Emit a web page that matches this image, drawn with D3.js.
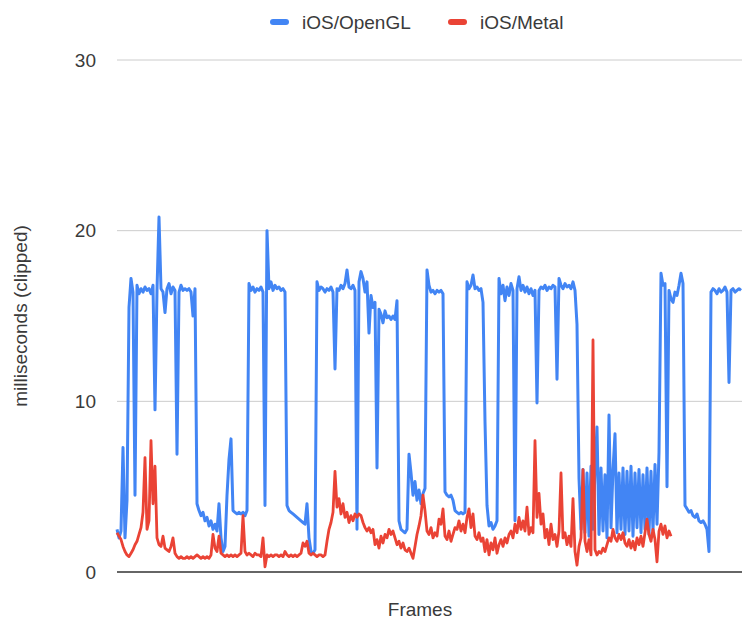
<!DOCTYPE html>
<html>
<head>
<meta charset="utf-8">
<script src="https://cdn.jsdelivr.net/npm/d3@7"></script>
<style>
  body { margin: 0; background: #fff; }
  svg { display: block; }
  .grid line { stroke: #cccccc; stroke-width: 1; }
  text { font-family: "Liberation Sans", Arial, sans-serif; fill: #3a3a3a; }
</style>
</head>
<body>
<div id="chart"></div>
<script>
// series names and colours
var seriesNames = ["iOS/OpenGL", "iOS/Metal"];
var seriesColors = ["#4285f4", "#ea4335"];
var yTicks = [0, 10, 20, 30];

// frame times in ms (one value every couple of frames)
var openglMs = [
  2.5, 2.0, 2.4, 7.3, 2.0, 4.2, 15.5, 17.2, 16.4, 4.5,
  16.8, 16.3, 16.6, 16.4, 16.7, 16.5, 16.6, 16.3, 16.8, 9.5,
  16.5, 20.8, 16.6, 16.4, 15.2, 16.6, 16.9, 16.3, 16.7, 16.5,
  6.9, 16.4, 16.8, 16.5, 16.6, 16.5, 16.6, 16.4, 15.0, 16.6,
  4.0, 3.6, 3.3, 3.5, 3.0, 3.2, 2.7, 3.0, 2.5, 2.8,
  2.4, 4.0, 2.0, 1.2, 1.5, 4.5, 6.6, 7.8, 3.6, 3.5,
  3.4, 3.5, 3.4, 3.5, 3.3, 3.6, 16.9, 16.5, 16.7, 16.4,
  16.6, 16.5, 16.7, 16.4, 3.9, 20.0, 16.6, 17.0, 16.5, 16.8,
  16.6, 16.7, 16.5, 16.6, 16.4, 3.9, 3.6, 3.5, 3.4, 3.3,
  3.2, 3.1, 3.0, 2.9, 2.8, 4.0, 2.0, 1.2, 1.1, 1.3,
  17.0, 16.5, 16.7, 16.6, 16.4, 16.6, 16.5, 16.7, 16.4, 11.9,
  16.6, 16.5, 16.8, 16.6, 16.9, 17.7, 16.7, 16.6, 16.8, 16.5,
  2.5, 17.0, 17.6, 17.2, 16.4, 17.0, 14.0, 16.2, 15.5, 15.8,
  6.1, 15.4, 15.1, 14.6, 15.3, 14.9, 15.0, 14.8, 15.0, 14.8,
  15.9, 3.0, 2.5, 2.4, 2.3, 2.5, 6.9, 5.8, 4.5, 5.3,
  4.2, 4.8, 4.0, 4.6, 4.9, 17.7, 16.8, 16.4, 16.5, 16.3,
  16.5, 16.4, 16.5, 16.3, 4.7, 4.5, 4.4, 4.5, 4.2, 3.6,
  3.5, 3.4, 3.5, 3.4, 3.5, 17.0, 16.6, 16.8, 17.4, 16.6,
  16.7, 16.5, 16.6, 15.8, 8.8, 3.9, 2.7, 2.9, 2.5, 2.7,
  3.0, 17.2, 16.3, 16.8, 15.9, 16.7, 16.2, 16.9, 16.5, 3.0,
  16.6, 17.3, 16.5, 16.8, 16.4, 16.7, 16.3, 16.6, 16.2, 16.5,
  9.9, 16.5, 16.7, 16.6, 16.8, 16.5, 16.7, 16.6, 16.8, 16.7,
  11.3, 17.2, 16.8, 16.6, 16.9, 16.7, 16.8, 16.6, 17.0, 16.5,
  14.5, 5.5, 2.5, 6.0, 2.3, 5.8, 2.1, 6.2, 2.5, 5.9,
  8.5, 2.2, 6.1, 2.4, 5.7, 2.0, 9.2, 2.6, 6.0, 8.1,
  2.3, 5.8, 2.5, 6.1, 2.2, 5.9, 2.4, 6.2, 2.1, 5.8,
  2.6, 6.0, 2.3, 5.7, 2.5, 6.1, 2.2, 5.9, 2.4, 6.3,
  2.8, 7.0, 17.5, 16.8, 16.9, 5.0, 16.5, 16.0, 15.8, 16.4,
  16.2, 16.8, 17.5, 16.9, 3.9, 3.7, 3.5, 3.6, 3.3, 3.2,
  3.4, 3.0, 2.9, 3.0, 2.8, 2.5, 1.2, 16.4, 16.6, 16.5,
  16.3, 16.6, 16.4, 16.5, 16.7, 16.4, 11.1, 16.5, 16.6, 16.4,
  16.5, 16.6, 16.5
];

var metalMs = [
  2.3, 2.1, 1.9, 1.5, 1.2, 1.0, 0.9, 1.1, 1.3, 1.6,
  1.8, 2.2, 2.6, 3.5, 6.7, 2.5, 3.0, 7.7, 4.0, 6.2,
  2.0, 1.6, 1.5, 2.1, 1.4, 1.3, 1.2, 1.5, 2.0, 1.1,
  0.9, 0.8, 0.9, 0.8, 0.8, 0.9, 0.8, 0.9, 0.8, 0.9,
  1.0, 0.9, 0.8, 0.9, 0.8, 0.9, 0.8, 1.0, 2.2, 1.4,
  1.2, 2.1, 1.1, 1.0, 0.9, 1.0, 0.9, 1.0, 0.9, 1.0,
  0.9, 1.0, 1.1, 3.3, 1.2, 1.0, 1.1, 1.0, 0.9, 1.1,
  1.0, 1.0, 0.9, 2.0, 0.3, 1.0, 0.9, 1.0, 0.9, 1.0,
  1.0, 0.9, 1.0, 0.9, 1.2, 1.0, 0.9, 1.0, 0.9, 1.0,
  0.9, 1.0, 1.1, 1.7, 1.5, 1.8, 1.1, 1.0, 1.1, 1.0,
  0.9, 1.0, 1.0, 0.9, 1.0, 1.8, 2.5, 2.9, 3.5, 5.9,
  3.8, 4.3, 3.4, 4.0, 3.2, 3.5, 2.9, 3.3, 3.0, 3.4,
  3.2, 3.4, 3.3, 2.9, 2.6, 2.4, 2.6, 2.3, 2.5, 1.6,
  1.9, 1.4, 2.1, 1.7, 2.2, 2.0, 2.5, 2.2, 2.4, 2.0,
  1.6, 1.8, 1.4, 1.7, 1.3, 1.2, 1.4, 1.1, 0.8, 1.5,
  2.2, 2.7, 3.3, 4.5, 3.6, 2.4, 2.2, 2.6, 2.0, 2.3,
  2.1, 3.1, 2.8, 3.7, 2.1, 1.9, 2.4, 1.8, 2.2, 2.6,
  2.5, 3.0, 2.4, 2.8, 2.3, 3.2, 3.7, 2.6, 3.4, 2.1,
  1.9, 2.3, 1.8, 2.0, 1.2, 1.9, 1.0, 1.7, 1.3, 2.0,
  1.1, 1.6, 1.9, 1.5, 2.0, 1.7, 2.2, 2.4, 2.0, 2.8,
  2.3, 3.2, 2.5, 3.0, 2.4, 3.8, 2.2, 2.6, 2.3, 7.7,
  3.2, 4.6, 2.8, 3.4, 2.0, 2.5, 1.6, 2.8, 1.9, 2.2,
  1.5, 2.4, 5.8, 2.0, 2.3, 1.6, 2.1, 1.5, 4.3, 1.2,
  0.4, 1.5, 2.0, 6.0, 1.8, 1.2, 1.9, 1.0, 13.6, 1.3,
  1.0, 1.2, 1.1, 1.4, 1.2, 1.6, 2.0, 1.8, 2.5, 2.0,
  1.8, 2.2, 1.9, 2.3, 1.7, 1.5, 1.9, 1.4, 1.8, 1.3,
  2.0, 1.6, 2.1, 1.5, 2.3, 3.1, 2.2, 1.8, 2.5, 1.9,
  0.6, 2.4, 2.8, 2.2, 2.7, 2.0, 2.4, 2.1
];

var W = 742, H = 620;
var margin = { left: 117, right: 1, top: 60, bottom: 48 };

var svg = d3.select("#chart").append("svg")
  .attr("width", W).attr("height", H);

var x = d3.scaleLinear()
  .domain([0, openglMs.length - 1])
  .range([margin.left, W - margin.right]);

var y = d3.scaleLinear()
  .domain([0, 30])
  .range([H - margin.bottom, margin.top]);

// gridlines (zero line is drawn later as the baseline)
svg.append("g").attr("class", "grid")
  .selectAll("line").data(yTicks.filter(function (d) { return d > 0; }))
  .enter().append("line")
  .attr("x1", margin.left).attr("x2", W)
  .attr("y1", function (d) { return y(d); })
  .attr("y2", function (d) { return y(d); });

// tick labels
svg.append("g").selectAll("text").data(yTicks).enter().append("text")
  .attr("x", 96)
  .attr("y", function (d) { return y(d); })
  .attr("dy", "0.35em")
  .attr("text-anchor", "end")
  .style("font-size", "19px")
  .text(function (d) { return d; });

var line = d3.line()
  .x(function (d, i) { return x(i); })
  .y(function (d) { return y(d); });

[openglMs, metalMs].forEach(function (s, k) {
  svg.append("path")
    .datum(s)
    .attr("fill", "none")
    .attr("stroke", seriesColors[k])
    .attr("stroke-width", k == 0 ? 3 : 2.8)
    .attr("stroke-linejoin", "round")
    .attr("d", line);
});

// baseline at 0
svg.append("line")
  .attr("x1", margin.left).attr("x2", W)
  .attr("y1", y(0)).attr("y2", y(0))
  .attr("stroke", "#333").attr("stroke-width", 1.6);

// legend
var legendX = [270, 448];
var lg = svg.append("g").selectAll("g").data(seriesNames).enter().append("g")
  .attr("transform", function (d, i) { return "translate(" + legendX[i] + ",22)"; });
lg.append("rect")
  .attr("x", 0).attr("y", -3).attr("width", 19).attr("height", 6).attr("rx", 3)
  .attr("fill", function (d, i) { return seriesColors[i]; });
lg.append("text")
  .attr("x", 32).attr("dy", "0.35em")
  .style("font-size", "19px")
  .text(function (d) { return d; });

// axis titles
svg.append("text")
  .attr("transform", "translate(27," + ((y(0) + y(30)) / 2) + ") rotate(-90)")
  .attr("text-anchor", "middle")
  .style("font-size", "19px")
  .text("milliseconds (clipped)");

svg.append("text")
  .attr("x", 420).attr("y", 616)
  .attr("text-anchor", "middle")
  .style("font-size", "19px")
  .text("Frames");
</script>
</body>
</html>
